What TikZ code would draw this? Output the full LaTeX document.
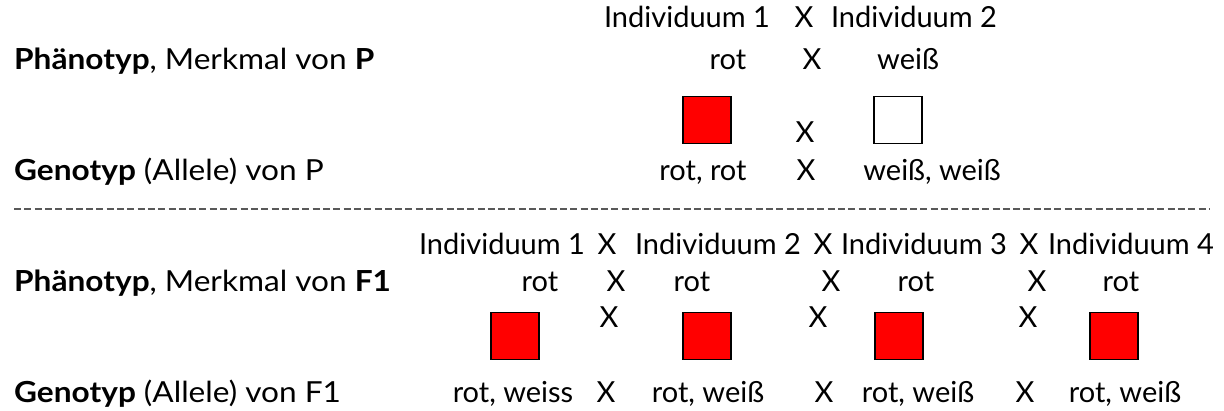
\documentclass[tikz,border=0pt]{standalone}
\usepackage{graphicx}
\usepackage{fontspec}
\setmainfont{Lato}
\newcommand{\widen}[1]{\scalebox{1.09}[1]{#1}}
\begin{document}
\begin{tikzpicture}[x=1pt,y=-1pt,
  txt/.style={font=\fontsize{29}{32}\selectfont, inner sep=0pt, anchor=base},
  lbl/.style={txt, anchor=base west},
  sqbox/.style={draw=black, line width=1.2pt, minimum width=48pt, minimum height=47pt, inner sep=0pt},
  redsq/.style={sqbox, fill=red},
  whitesq/.style={sqbox, fill=white},
  sep/.style={draw=black!65, line width=1.5pt, dash pattern=on 7pt off 3.3pt}]
\useasboundingbox (0,0) rectangle (1224,411);
% ---------- P generation ----------
\node[txt] (pi1) at (687,28) {Individuum 1};
\node[txt] (px0) at (804,28) {X};
\node[txt] (pi2) at (914,28) {Individuum 2};
\node[lbl] (pphen) at (14,70) {\widen{\textbf{Phänotyp}, Merkmal von \textbf{P}}};
\node[txt] (pr1) at (728,70) {rot};
\node[txt] (px1) at (812,70) {X};
\node[txt] (pw1) at (908,70) {weiß};
\node[redsq] (psq1) at (707,120) {};
\node[txt] (px2) at (805,143) {X};
\node[whitesq] (psq2) at (898,120) {};
\node[lbl] (pgen) at (14,181) {\widen{\textbf{Genotyp} (Allele) von P}};
\node[txt] (pg1) at (703,181) {rot, rot};
\node[txt] (px3) at (806,181) {X};
\node[txt] (pg2) at (932,181) {weiß, weiß};
% ---------- separator ----------
\coordinate (sl) at (14,209);
\coordinate (sr) at (1209,209);
\draw[sep] (sl) -- (sr);
% ---------- F1 generation ----------
\node[txt] (fi1) at (502,255) {Individuum 1};
\node[txt] (fx1) at (607,255) {X};
\node[txt] (fi2) at (718,255) {Individuum 2};
\node[txt] (fx2) at (823,255) {X};
\node[txt] (fi3) at (924,255) {Individuum 3};
\node[txt] (fx3) at (1029,255) {X};
\node[txt] (fi4) at (1131,255) {Individuum 4};
\node[lbl] (fphen) at (14,292) {\widen{\textbf{Phänotyp}, Merkmal von \textbf{F1}}};
\node[txt] (fr1) at (540,292) {rot};
\node[txt] (fy1) at (616,292) {X};
\node[txt] (fr2) at (692,292) {rot};
\node[txt] (fy2) at (831,292) {X};
\node[txt] (fr3) at (916,292) {rot};
\node[txt] (fy3) at (1037,292) {X};
\node[txt] (fr4) at (1121,292) {rot};
\node[redsq] (fsq1) at (515,336) {};
\node[txt] (fz1) at (609,328) {X};
\node[redsq] (fsq2) at (707,336) {};
\node[txt] (fz2) at (818,328) {X};
\node[redsq] (fsq3) at (899,336) {};
\node[txt] (fz3) at (1028,328) {X};
\node[redsq] (fsq4) at (1114,336) {};
\node[lbl] (fgen) at (14,403) {\widen{\textbf{Genotyp} (Allele) von F1}};
\node[txt] (fg1) at (513,403) {rot, weiss};
\node[txt] (fw1) at (606,403) {X};
\node[txt] (fg2) at (708,403) {rot, weiß};
\node[txt] (fw2) at (824,403) {X};
\node[txt] (fg3) at (918,403) {rot, weiß};
\node[txt] (fw3) at (1025,403) {X};
\node[txt] (fg4) at (1125,403) {rot, weiß};
\end{tikzpicture}
\end{document}
